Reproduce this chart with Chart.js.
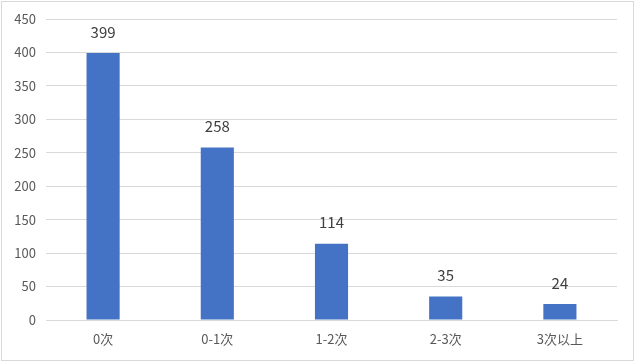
<!DOCTYPE html>
<html><head><meta charset="utf-8">
<script src="https://cdn.jsdelivr.net/npm/chart.js@4"></script>
<style>html,body{margin:0;padding:0;background:#fff}#w{width:635px;height:362px;position:relative}</style>
</head><body><div id="w"><canvas id="c"></canvas></div>
<script>
const categories = ["0次", "0-1次", "1-2次", "2-3次", "3次以上"];
const values = [399, 258, 114, 35, 24];
const yTicks = [0, 50, 100, 150, 200, 250, 300, 350, 400, 450];

const FONT = "'Noto Sans CJK SC', 'Microsoft YaHei', sans-serif";

const frame = {
  id: 'frame',
  beforeDraw(chart) {
    const ctx = chart.ctx;
    ctx.save();
    ctx.fillStyle = '#fff';
    ctx.fillRect(0, 0, chart.width, chart.height);
    ctx.strokeStyle = '#d9d9d9';
    ctx.lineWidth = 1;
    ctx.strokeRect(1.5, 1.5, chart.width - 3, chart.height - 3);
    ctx.restore();
  }
};
const labels = {
  id: 'labels',
  afterDatasetsDraw(chart) {
    const ctx = chart.ctx;
    const meta = chart.getDatasetMeta(0);
    ctx.save();
    ctx.fillStyle = '#404040';
    ctx.font = '15px ' + FONT;
    ctx.textAlign = 'center';
    ctx.textBaseline = 'middle';
    meta.data.forEach((bar, i) => {
      ctx.fillText(String(values[i]), bar.x, bar.y - 21);
    });
    ctx.restore();
  }
};

new Chart(document.getElementById('c'), {
  type: 'bar',
  data: {
    labels: categories,
    datasets: [{
      data: values,
      backgroundColor: '#4472C4',
      borderWidth: 0,
      barPercentage: 0.29,
      categoryPercentage: 1
    }]
  },
  options: {
    responsive: true,
    maintainAspectRatio: false,
    animation: false,
    devicePixelRatio: 1,
    layout: { padding: { left: 0, top: 19, right: 18, bottom: 0 } },
    plugins: { legend: { display: false }, tooltip: { enabled: false } },
    scales: {
      x: {
        grid: { display: false, drawTicks: false },
        border: { display: true, color: '#d9d9d9' },
        ticks: { color: '#595959', font: { family: FONT, size: 13 }, padding: 11 },
        afterFit(s) { s.height = 42; }
      },
      y: {
        min: 0, max: 450,
        afterBuildTicks(s) { s.ticks = yTicks.map(v => ({ value: v })); },
        grid: { color: '#d9d9d9', drawTicks: false },
        border: { display: false },
        ticks: { color: '#595959', font: { family: FONT, size: 13 }, padding: 10 },
        afterFit(s) { s.width = 46; }
      }
    }
  },
  plugins: [frame, labels]
});
</script></body></html>
